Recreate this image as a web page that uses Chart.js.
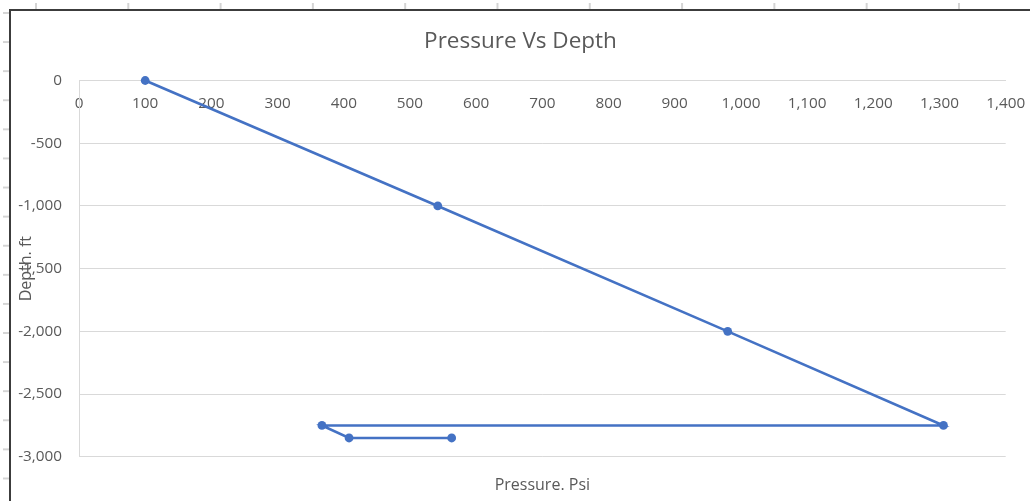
<!DOCTYPE html>
<html>
<head>
<meta charset="utf-8">
<script src="https://cdn.jsdelivr.net/npm/chart.js@4"></script>
<style>
  html, body { margin: 0; padding: 0; background: #fff; }
  body { width: 1030px; height: 501px; position: relative; overflow: hidden; }
  /* spreadsheet gridline stubs around the chart frame */
  #colTicks { position: absolute; left: 0; top: 3px; width: 1030px; height: 6px;
    background-image: linear-gradient(to right, #d4d4d4 0 1.5px, transparent 1.5px);
    background-size: 92.3px 100%; background-position: 35px 0; }
  #rowTicks { position: absolute; left: 3px; top: 0; width: 6px; height: 501px;
    background-image: linear-gradient(to bottom, #d4d4d4 0 1.5px, transparent 1.5px);
    background-size: 100% 29.1px; background-position: 0 12px; }
  #frame { position: absolute; left: 9px; top: 9px; right: 0; bottom: 0;
    border-top: 2px solid #3c3c3c; border-left: 2px solid #3c3c3c; }
  #wrap { position: absolute; left: 11px; top: 11px; width: 1019px; height: 490px; }
</style>
</head>
<body>
<div id="colTicks"></div>
<div id="rowTicks"></div>
<div id="frame"></div>
<div id="wrap"><canvas id="chart"></canvas></div>
<script>
const pressure = [100, 542, 980, 1306, 367, 408, 563];
const depth    = [0, -1000, -2000, -2750, -2750, -2850, -2850];

const xTickValues = [0, 100, 200, 300, 400, 500, 600, 700, 800, 900, 1000, 1100, 1200, 1300, 1400];
const yTickValues = [0, -500, -1000, -1500, -2000, -2500, -3000];

const chartTitle = 'Pressure Vs Depth';
const xTitle = 'Pressure. Psi';
const yTitle = 'Depth. ft';

const FONT = "'Open Sans', 'Noto Sans', sans-serif";
const textGray = '#595959';
const gridGray = '#d9d9d9';
const lineBlue = '#4472c4';

const points = pressure.map((p, i) => ({ x: p, y: depth[i] }));

new Chart(document.getElementById('chart'), {
  type: 'scatter',
  data: {
    datasets: [{
      data: points,
      showLine: true,
      clip: false,
      borderColor: lineBlue,
      backgroundColor: lineBlue,
      borderWidth: 2.6,
      pointRadius: 4.4,
      pointBorderWidth: 0,
      tension: 0
    }]
  },
  options: {
    responsive: true,
    maintainAspectRatio: false,
    animation: false,
    layout: { padding: 0 },
    plugins: {
      legend: { display: false },
      tooltip: { enabled: false },
      title: {
        display: true, text: chartTitle, color: textGray,
        font: { family: FONT, size: 22.5, weight: 'normal' },
        padding: { top: 17.5, bottom: 25 }
      },
      subtitle: {
        display: true, text: xTitle, position: 'bottom', fullSize: false,
        color: textGray,
        font: { family: FONT, size: 16, weight: 'normal' },
        padding: { top: 19.5, bottom: 5.5 }
      }
    },
    scales: {
      x: {
        type: 'linear',
        position: { y: 0 },
        min: 0, max: 1400,
        afterBuildTicks: s => { s.ticks = xTickValues.map(v => ({ value: v })); },
        // keep the plot's right edge where the reference has it
        afterFit: s => { s.paddingLeft = 0; s.paddingRight = 24.3; },
        ticks: { color: textGray, font: { family: FONT, size: 15.3 }, padding: 13.5, maxRotation: 0, autoSkip: false },
        grid: { display: false, drawTicks: false },
        border: { display: true, color: gridGray, width: 1 }
      },
      y: {
        type: 'linear',
        position: 'left',
        min: -3000, max: 0,
        afterBuildTicks: s => { s.ticks = yTickValues.map(v => ({ value: v })); },
        afterFit: s => { s.width = 68; },
        ticks: { color: textGray, font: { family: FONT, size: 15.3 }, padding: 17 },
        grid: { color: gridGray, lineWidth: 1, drawTicks: false },
        border: { display: true, color: gridGray, width: 1 },
        title: {
          display: true, text: yTitle, color: textGray,
          font: { family: FONT, size: 16, weight: 'normal' },
          padding: { top: 6, bottom: 0 }
        }
      }
    }
  }
});
</script>
</body>
</html>
